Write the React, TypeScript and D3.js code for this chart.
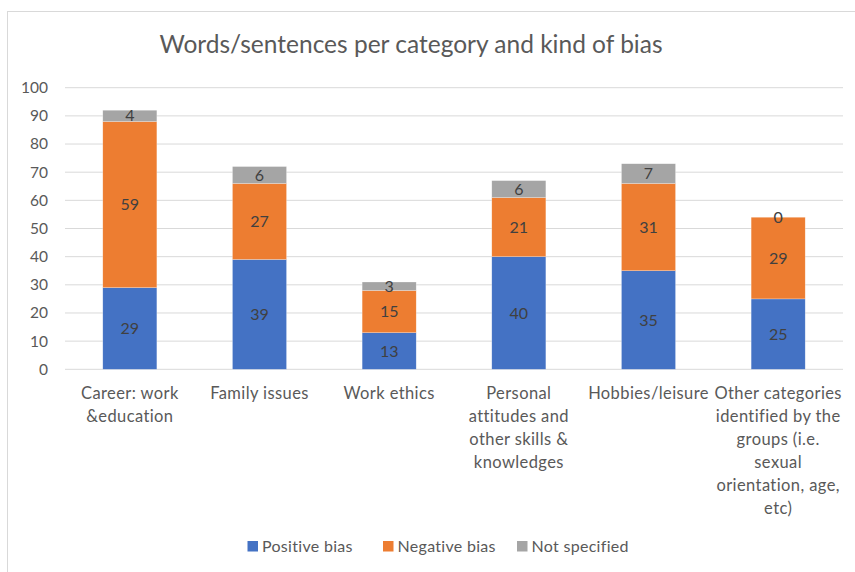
import React from "react";
import * as d3 from "d3";

const categories: string[][] = [
  ["Career: work", "&education"],
  ["Family issues"],
  ["Work ethics"],
  ["Personal", "attitudes and", "other skills &", "knowledges"],
  ["Hobbies/leisure"],
  ["Other categories", "identified by the", "groups (i.e.", "sexual", "orientation, age,", "etc)"],
];
const positiveBias = [29, 39, 13, 40, 35, 25];
const negativeBias = [59, 27, 15, 21, 31, 29];
const notSpecified = [4, 6, 3, 6, 7, 0];
const seriesNames = ["Positive bias", "Negative bias", "Not specified"];
const seriesColors = ["#4472C4", "#ED7D31", "#A5A5A5"];
const yTicks = [0, 10, 20, 30, 40, 50, 60, 70, 80, 90, 100];
const title = "Words/sentences per category and kind of bias";

const W = 855;
const H = 572;
const FONT = "Lato, 'Open Sans', sans-serif";

export default function App() {
  const plotLeft = 65;
  const plotRight = 843;
  const plotTop = 87.7;
  const plotBottom = 369.3;

  const keys = categories.map((c) => c.join(" "));
  const x = d3.scaleBand<string>().domain(keys).range([plotLeft, plotRight]).padding(0);
  const y = d3.scaleLinear().domain([0, 100]).range([plotBottom, plotTop]);
  const barW = x.bandwidth() * 0.417;

  const rows = keys.map((k, i) => ({
    key: k,
    s0: positiveBias[i],
    s1: negativeBias[i],
    s2: notSpecified[i],
  }));
  const stack = d3.stack<any>().keys(["s0", "s1", "s2"]);
  const layers = stack(rows);

  const legendX = [247.5, 383, 517];

  return (
    <svg
      width={W}
      height={H}
      style={{ position: "absolute", left: 0, top: 0, background: "#fff" }}
      fontFamily={FONT}
    >
      <rect x={0} y={0} width={W} height={H} fill="#fff" />
      <rect x={7.5} y={11.5} width={W + 10} height={H + 10} fill="none" stroke="#D9D9D9" strokeWidth={1} />

      <text x={411} y={53} textAnchor="middle" fontSize={24.5} fill="#595959">
        {title}
      </text>

      {yTicks.map((t) => (
        <g key={t}>
          <line x1={plotLeft} x2={plotRight} y1={y(t)} y2={y(t)} stroke="#D9D9D9" strokeWidth={1} />
          <text x={48} y={y(t)} dy="0.35em" textAnchor="end" fontSize={15.5} fill="#595959">
            {t}
          </text>
        </g>
      ))}

      {layers.map((layer, li) => (
        <g key={li}>
          {layer.map((d, i) => {
            const cx = (x(keys[i]) as number) + x.bandwidth() / 2;
            const y0 = y(d[0]);
            const y1 = y(d[1]);
            return (
              <rect
                key={i}
                x={cx - barW / 2}
                y={y1}
                width={barW}
                height={Math.max(0, y0 - y1)}
                fill={seriesColors[li]}
                stroke="#fff"
                strokeOpacity={0.5}
                strokeWidth={0.5}
              />
            );
          })}
        </g>
      ))}

      {layers.map((layer, li) => (
        <g key={"l" + li}>
          {layer.map((d, i) => {
            const cx = (x(keys[i]) as number) + x.bandwidth() / 2;
            const ym = (y(d[0]) + y(d[1])) / 2;
            return (
              <text key={i} x={cx} y={ym} dy="0.35em" textAnchor="middle" fontSize={16} fill="#404040">
                {d[1] - d[0]}
              </text>
            );
          })}
        </g>
      ))}

      {categories.map((lines, i) => {
        const cx = (x(keys[i]) as number) + x.bandwidth() / 2;
        return (
          <text key={i} textAnchor="middle" fontSize={16.5} letterSpacing={0.4} fill="#595959">
            {lines.map((ln, j) => (
              <tspan key={j} x={cx} y={399 + j * 23}>
                {ln}
              </tspan>
            ))}
          </text>
        );
      })}

      {seriesNames.map((n, i) => (
        <g key={n}>
          <rect x={legendX[i]} y={541} width={10.5} height={10.5} fill={seriesColors[i]} />
          <text x={legendX[i] + 14.5} y={546.5} dy="0.35em" fontSize={16} letterSpacing={0.3} fill="#595959">
            {n}
          </text>
        </g>
      ))}
    </svg>
  );
}
